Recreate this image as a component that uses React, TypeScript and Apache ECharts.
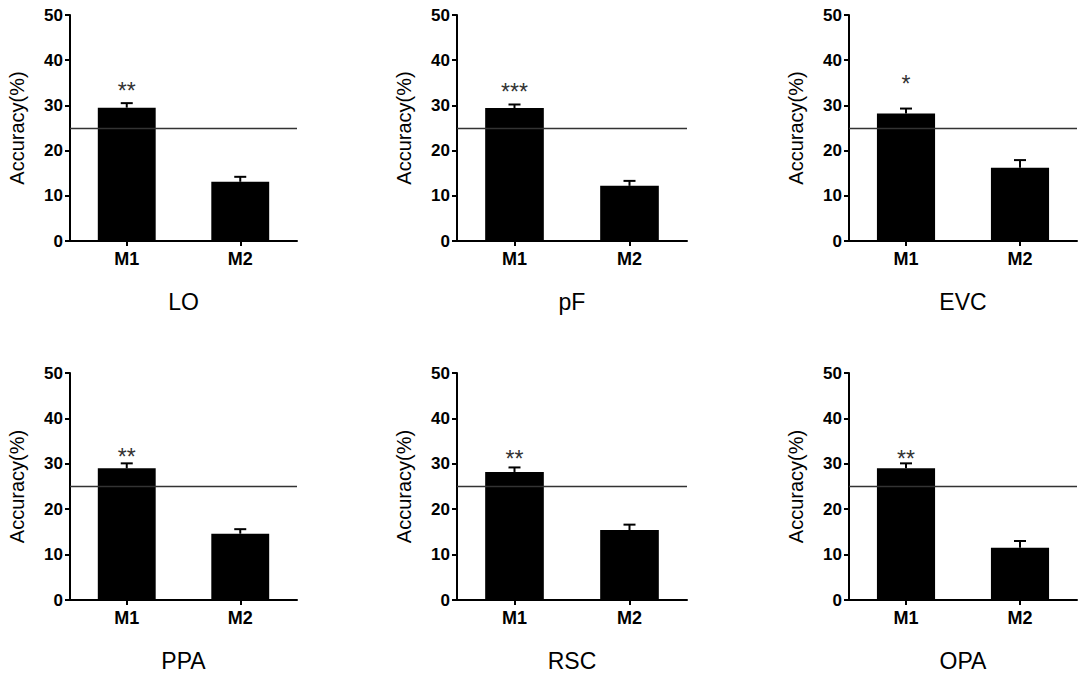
import React, { useEffect, useRef } from "react";
import * as echarts from "echarts";

const regions = ["LO", "pF", "EVC", "PPA", "RSC", "OPA"];
const categories = ["M1", "M2"];
const m1Mean = [29.5, 29.4, 28.2, 29.0, 28.2, 29.0];
const m1Err = [1.0, 0.8, 1.1, 1.1, 1.0, 1.1];
const m2Mean = [13.1, 12.2, 16.2, 14.6, 15.4, 11.5];
const m2Err = [1.1, 1.1, 1.7, 1.0, 1.2, 1.5];
const significance = ["**", "***", "*", "**", "**", "**"];
const sigLevel = [34.5, 34.3, 36.0, 32.8, 32.3, 32.3];
const chanceLevel = 25;
const yMin = 0;
const yMax = 50;
const yInterval = 10;
const yAxisTitle = "Accuracy(%)";

const FONT = "'Liberation Sans', Arial, Helvetica, sans-serif";

const gridBoxes = [
  { left: 70, top: 15, width: 227, height: 226 },
  { left: 457, top: 15, width: 230, height: 226 },
  { left: 849, top: 15, width: 228, height: 226 },
  { left: 70, top: 373, width: 227, height: 227 },
  { left: 457, top: 373, width: 230, height: 227 },
  { left: 849, top: 373, width: 228, height: 227 },
];

export default function App() {
  const ref = useRef<HTMLDivElement>(null);
  useEffect(() => {
    if (!ref.current) return;
    const chart = echarts.init(ref.current, undefined, { renderer: "svg" });
    const grid: any[] = [];
    const xAxis: any[] = [];
    const yAxis: any[] = [];
    const series: any[] = [];
    regions.forEach((name, i) => {
      grid.push({ ...gridBoxes[i], containLabel: false });
      xAxis.push({
        type: "category",
        gridIndex: i,
        data: categories,
        name,
        nameLocation: "middle",
        nameGap: 49,
        nameTextStyle: { fontFamily: FONT, fontSize: 23, color: "#000" },
        axisLine: { show: true, lineStyle: { color: "#000", width: 2 } },
        axisTick: { show: true, alignWithLabel: true, length: 5, lineStyle: { color: "#000", width: 2 } },
        axisLabel: { fontFamily: FONT, fontSize: 18, fontWeight: "bold", color: "#000", margin: 9 },
        splitLine: { show: false },
      });
      yAxis.push({
        type: "value",
        gridIndex: i,
        min: yMin,
        max: yMax,
        interval: yInterval,
        name: yAxisTitle,
        nameLocation: "middle",
        nameGap: 43,
        nameTextStyle: { fontFamily: FONT, fontSize: 20, color: "#000" },
        axisLine: { show: true, lineStyle: { color: "#000", width: 2 } },
        axisTick: { show: true, length: 5, lineStyle: { color: "#000", width: 2 } },
        axisLabel: { fontFamily: FONT, fontSize: 17, fontWeight: "bold", color: "#000", margin: 7 },
        splitLine: { show: false },
      });
      series.push({
        type: "bar",
        xAxisIndex: i,
        yAxisIndex: i,
        data: [m1Mean[i], m2Mean[i]],
        barWidth: "51%",
        itemStyle: { color: "#000" },
        markLine: {
          silent: true,
          symbol: "none",
          label: { show: false },
          lineStyle: { color: "#333", width: 1.3, type: "solid" },
          data: [{ yAxis: chanceLevel }],
        },
      });
      series.push({
        type: "custom",
        xAxisIndex: i,
        yAxisIndex: i,
        data: [
          [0, m1Mean[i], m1Err[i]],
          [1, m2Mean[i], m2Err[i]],
        ],
        encode: { x: 0, y: 1 },
        z: 5,
        renderItem: (params: any, api: any) => {
          const cat = api.value(0);
          const mean = api.value(1);
          const err = api.value(2);
          const p0 = api.coord([cat, mean]);
          const p1 = api.coord([cat, mean + err]);
          const style = { stroke: "#000", lineWidth: 2 };
          return {
            type: "group",
            children: [
              { type: "line", shape: { x1: p0[0], y1: p0[1], x2: p1[0], y2: p1[1] }, style },
              { type: "line", shape: { x1: p1[0] - 6, y1: p1[1], x2: p1[0] + 6, y2: p1[1] }, style },
            ],
          };
        },
      });
      series.push({
        type: "custom",
        xAxisIndex: i,
        yAxisIndex: i,
        data: [[0, sigLevel[i]]],
        encode: { x: 0, y: 1 },
        z: 6,
        renderItem: (params: any, api: any) => {
          const p = api.coord([api.value(0), api.value(1)]);
          return {
            type: "text",
            x: p[0],
            y: p[1] + 6,
            style: {
              text: significance[i],
              fontFamily: FONT,
              fontSize: 23,
              fill: "#333",
              align: "center",
              verticalAlign: "middle",
              textAlign: "center",
              textVerticalAlign: "middle",
            },
          };
        },
      });
    });
    chart.setOption({
      animation: false,
      backgroundColor: "#fff",
      grid,
      xAxis,
      yAxis,
      series,
    });
    return () => chart.dispose();
  }, []);
  return (
    <div
      ref={ref}
      style={{ position: "fixed", left: 0, top: 0, width: 1084, height: 677, background: "#fff" }}
    />
  );
}
